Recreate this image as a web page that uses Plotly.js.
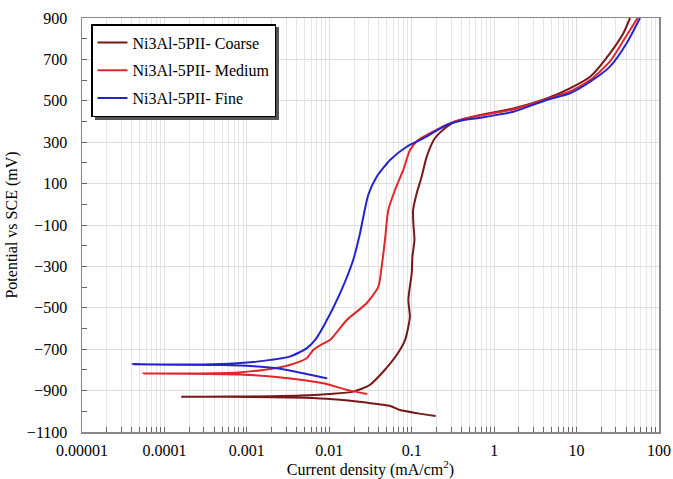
<!DOCTYPE html>
<html>
<head>
<meta charset="utf-8">
<script src="https://cdn.plot.ly/plotly-3.0.1.min.js"></script>
<style>html,body{margin:0;padding:0;background:#fff;}#chart{width:673px;height:479px;}</style>
</head>
<body>
<div id="chart"></div>
<script>
// Series names
const seriesNames = ["Ni3Al-5PII- Coarse", "Ni3Al-5PII- Medium", "Ni3Al-5PII- Fine"];

// Coarse: current density (mA/cm2) and potential (mV)
const coarseX = [0.195, 0.12, 0.072, 0.055, 0.028, 0.011, 0.005, 0.002, 0.0006, 0.00016,
  0.0006, 0.002, 0.0045, 0.01, 0.0195, 0.031, 0.045, 0.0657, 0.083, 0.09, 0.095, 0.091, 0.1, 0.102, 0.108, 0.105, 0.104,
  0.115, 0.132, 0.152, 0.191, 0.267, 0.334, 0.674, 1.71, 4.34, 8.3, 14.6, 25.4, 36.9, 44.5];
const coarseY = [-1023, -1010, -994, -974, -958, -942, -935, -932, -930, -930,
  -929, -927, -924, -916, -905, -873, -809, -728, -656, -600, -543, -462, -333, -253, -172, -100, -28,
  53, 133, 230, 319, 375, 399, 431, 463, 511, 560, 616, 729, 826, 900];

// Medium
const mediumX = [0.0289, 0.0179, 0.0085, 0.005, 0.0033, 0.0023, 0.00083, 0.0002, 0.0000555,
  0.0002, 0.0008, 0.00158, 0.0033, 0.0053, 0.0064, 0.0085, 0.0102, 0.0163, 0.0284, 0.0394, 0.0432, 0.0474, 0.052,
  0.0627, 0.079, 0.0953, 0.12, 0.2, 0.334, 0.674, 1.71, 4.34, 8.3, 14.6, 25.4, 36.9, 55];
const mediumY = [-916, -900, -865, -850, -841, -834, -822, -818, -817,
  -817, -812, -800, -776, -744, -704, -672, -656, -559, -478, -398, -301, -172, -28,
  69, 166, 262, 311, 360, 400, 429, 458, 508, 545, 600, 690, 790, 900];

// Fine
const fineX = [0.00946, 0.0048, 0.0023, 0.0012, 0.0005, 0.0000412,
  0.0002, 0.0006, 0.00132, 0.0033, 0.0053, 0.0067, 0.00846, 0.0135, 0.0195, 0.0236, 0.0259, 0.0297,
  0.0376, 0.0546, 0.0869, 0.138, 0.266, 0.4, 0.674, 1.71, 4.34, 8.3, 14.6, 25.4, 40.5, 58.8];
const fineY = [-841, -816, -792, -782, -776, -773,
  -774, -770, -760, -736, -696, -656, -591, -430, -269, -140, -60, 45,
  133, 214, 278, 319, 383, 405, 418, 447, 504, 536, 592, 665, 778, 900];

// Axis tick labels
const xTickVals = [0.00001, 0.0001, 0.001, 0.01, 0.1, 1, 10, 100];
const xTickText = ["0.00001", "0.0001", "0.001", "0.01", "0.1", "1", "10", "100"];
const yTickVals = [-1100, -900, -700, -500, -300, -100, 100, 300, 500, 700, 900];

const colors = ["#761818", "#e3262a", "#2424cc"];

const xMinor = [];
for (let d = -5; d < 2; d++) {
  for (let m = 2; m <= 9; m++) xMinor.push(m * Math.pow(10, d));
}

const font = "'Liberation Serif', 'Times New Roman', 'DejaVu Serif', serif";

const traces = [
  {x: coarseX, y: coarseY, name: seriesNames[0], legendgroup: "a"},
  {x: mediumX, y: mediumY, name: seriesNames[1], legendgroup: "b"},
  {x: fineX, y: fineY, name: seriesNames[2], legendgroup: "c"}
].map((t, i) => Object.assign(t, {
  type: "scatter", mode: "lines",
  line: {color: colors[i], width: 2, shape: "spline", smoothing: 0.6}
}));

const L = 82, R = 659, T = 18, B = 432;
const W = R - L, H = B - T;
const px = v => (v - L) / W;
const py = v => (B - v) / H;

const layout = {
  width: 673, height: 479,
  margin: {l: L, r: 673 - R, t: T, b: 479 - B},
  paper_bgcolor: "#fff", plot_bgcolor: "#fff",
  font: {family: font, size: 16, color: "#000"},
  showlegend: true,
  legend: {
    x: px(91), y: py(24), xanchor: "left", yanchor: "top",
    bgcolor: "#fff", bordercolor: "#000", borderwidth: 1.5,
    font: {family: font, size: 16, color: "#000"},
    tracegroupgap: 4, itemwidth: 30
  },
  xaxis: {
    type: "log", range: [-5, 2],
    tickmode: "array", tickvals: xTickVals, ticktext: xTickText,
    ticks: "inside", ticklen: 5, tickcolor: "#666",
    showgrid: true, gridcolor: "#dedede", gridwidth: 1,
    showline: true, linecolor: "#888", linewidth: 1.5, mirror: true,
    zeroline: false, ticklabelstandoff: 3,
    minor: {tickmode: "array", tickvals: xMinor, ticks: "inside", ticklen: 5, tickcolor: "#666",
            showgrid: true, gridcolor: "#e6e6e6", gridwidth: 1},
    title: {text: "Current density (mA/cm<sup>2</sup>)", font: {family: font, size: 16}, standoff: 6}
  },
  yaxis: {
    range: [-1100, 900],
    tickmode: "array", tickvals: yTickVals,
    ticks: "inside", ticklen: 5, tickcolor: "#666",
    showgrid: true, gridcolor: "#dedede", gridwidth: 1,
    showline: true, linecolor: "#888", linewidth: 1.5, mirror: true,
    zeroline: false, ticklabelstandoff: 10,
    minor: {dtick: 100, tick0: -1100, ticks: "inside", ticklen: 5, tickcolor: "#666", showgrid: false},
    title: {text: "Potential vs SCE (mV)", font: {family: font, size: 16}, standoff: 5}
  },
  shapes: [{
    type: "rect", xref: "paper", yref: "paper", layer: "above",
    x0: px(95), x1: px(279), y0: py(120), y1: py(27),
    fillcolor: "#555", line: {width: 0}
  }]
};

Plotly.newPlot("chart", traces, layout, {displayModeBar: false, staticPlot: true});
</script>
</body>
</html>
